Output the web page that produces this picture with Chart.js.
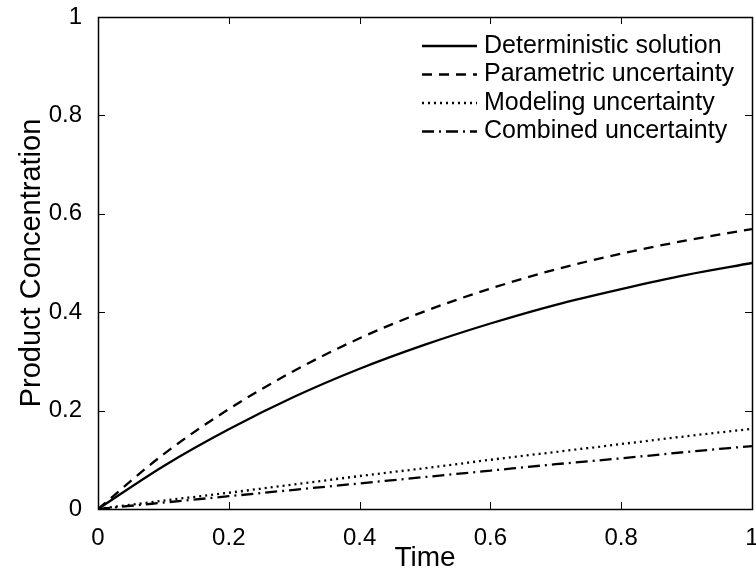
<!DOCTYPE html>
<html>
<head>
<meta charset="utf-8">
<script src="https://cdn.jsdelivr.net/npm/chart.js@4.4.1/dist/chart.umd.min.js"></script>
<style>
  body { margin: 0; background: #fff; }
  canvas { display: block; }
</style>
</head>
<body>
<canvas id="grafico" width="756" height="572"></canvas>
<script>
// valores
const tempo = [0, 0.1, 0.2, 0.3, 0.4, 0.5, 0.6, 0.7, 0.8, 0.9, 1.0]
const deterministica = [0, 0.087, 0.162, 0.228, 0.285, 0.334, 0.377, 0.415, 0.447, 0.476, 0.500]
const parametrica = [0, 0.111, 0.203, 0.281, 0.347, 0.402, 0.448, 0.487, 0.519, 0.546, 0.569]
const modelagem = [0, 0.017, 0.033, 0.050, 0.067, 0.083, 0.100, 0.116, 0.132, 0.148, 0.163]
const combinada = [0, 0.013, 0.026, 0.039, 0.052, 0.065, 0.078, 0.091, 0.103, 0.116, 0.128]

const nomesSeries = ["Deterministic solution", "Parametric uncertainty", "Modeling uncertainty", "Combined uncertainty"]
const xTicks = [0, 0.2, 0.4, 0.6, 0.8, 1]
const xTickLabels = ["0", "0.2", "0.4", "0.6", "0.8", "1"]
const yTicks = [0, 0.2, 0.4, 0.6, 0.8, 1]
const yTickLabels = ["0", "0.2", "0.4", "0.6", "0.8", "1"]

const FONTE = "'Liberation Sans', Arial, Helvetica, sans-serif"

function pontos(ys) {
  return tempo.map((t, i) => ({x: t, y: ys[i]}))
}

function serie(label, ys, dash) {
  return {
    label: label,
    data: pontos(ys),
    borderColor: '#000',
    borderWidth: 2.3,
    borderDash: dash,
    pointRadius: 0,
    fill: false,
    tension: 0.4,
    cubicInterpolationMode: 'monotone'
  }
}

// caixa em volta + ticks pra dentro (estilo matlab)
const moldura = {
  id: 'moldura',
  afterDatasetsDraw(chart) {
    const {ctx, chartArea: a, scales: {x, y}} = chart
    ctx.save()
    ctx.strokeStyle = '#000'
    ctx.lineWidth = 1
    ctx.setLineDash([])
    const tam = 7
    ctx.beginPath()
    for (const v of xTicks) {
      const px = Math.round(x.getPixelForValue(v)) + 0.5
      ctx.moveTo(px, a.bottom); ctx.lineTo(px, a.bottom - tam)
      ctx.moveTo(px, a.top); ctx.lineTo(px, a.top + tam)
    }
    for (const v of yTicks) {
      const py = Math.round(y.getPixelForValue(v)) + 0.5
      ctx.moveTo(a.left, py); ctx.lineTo(a.left + tam, py)
      ctx.moveTo(a.right, py); ctx.lineTo(a.right - tam, py)
    }
    ctx.stroke()
    ctx.lineWidth = 1.5
    ctx.strokeRect(Math.round(a.left) + 0.5, Math.round(a.top) + 0.5,
      Math.round(a.right - a.left), Math.round(a.bottom - a.top))
    ctx.restore()
  }
}

// legenda dentro do grafico, canto superior direito
const legendaInterna = {
  id: 'legendaInterna',
  afterDatasetsDraw(chart) {
    const ctx = chart.ctx
    ctx.save()
    ctx.font = "25px " + FONTE
    ctx.textBaseline = 'middle'
    ctx.fillStyle = '#000'
    chart.data.datasets.forEach((ds, i) => {
      const yy = 46 + i * 28.5
      ctx.strokeStyle = '#000'
      ctx.lineWidth = 2.3
      ctx.setLineDash(ds.borderDash || [])
      ctx.beginPath()
      ctx.moveTo(422, yy)
      ctx.lineTo(477, yy)
      ctx.stroke()
      ctx.setLineDash([])
      ctx.fillText(ds.label, 484, yy)
    })
    ctx.restore()
  }
}

new Chart(document.getElementById("grafico"), {
  type: 'line',
  data: {
    datasets: [
      serie(nomesSeries[0], deterministica, []),
      serie(nomesSeries[1], parametrica, [10, 7]),
      serie(nomesSeries[2], modelagem, [2, 4]),
      serie(nomesSeries[3], combinada, [12, 5, 2, 5])
    ]
  },
  options: {
    responsive: false,
    animation: false,
    layout: {padding: {top: 17, right: 4, left: 0, bottom: 0}},
    plugins: {legend: {display: false}, tooltip: {enabled: false}},
    scales: {
      x: {
        type: 'linear',
        min: 0,
        max: 1,
        afterFit(scale) {
          scale.height = 63
          scale.paddingLeft = 0
          scale.paddingRight = 0
        },
        afterBuildTicks(scale) { scale.ticks = xTicks.map(v => ({value: v})) },
        grid: {display: false},
        border: {display: false},
        ticks: {
          color: '#000',
          padding: 7,
          maxRotation: 0,
          font: {family: FONTE, size: 24},
          callback: (v, i) => xTickLabels[i]
        },
        title: {
          display: true,
          text: 'Time',
          color: '#000',
          padding: 0,
          font: {family: FONTE, size: 28, lineHeight: 1}
        }
      },
      y: {
        type: 'linear',
        min: 0,
        max: 1,
        afterFit(scale) {
          scale.width = 98
          scale.paddingTop = 0
          scale.paddingBottom = 0
        },
        afterBuildTicks(scale) { scale.ticks = yTicks.map(v => ({value: v})) },
        grid: {display: false},
        border: {display: false},
        ticks: {
          color: '#000',
          padding: 8,
          font: {family: FONTE, size: 24},
          callback: (v, i) => yTickLabels[i]
        },
        title: {
          display: true,
          text: 'Product Concentration',
          color: '#000',
          padding: {top: 17, bottom: 0},
          font: {family: FONTE, size: 29, lineHeight: 1}
        }
      }
    }
  },
  plugins: [moldura, legendaInterna]
})
</script>
</body>
</html>
